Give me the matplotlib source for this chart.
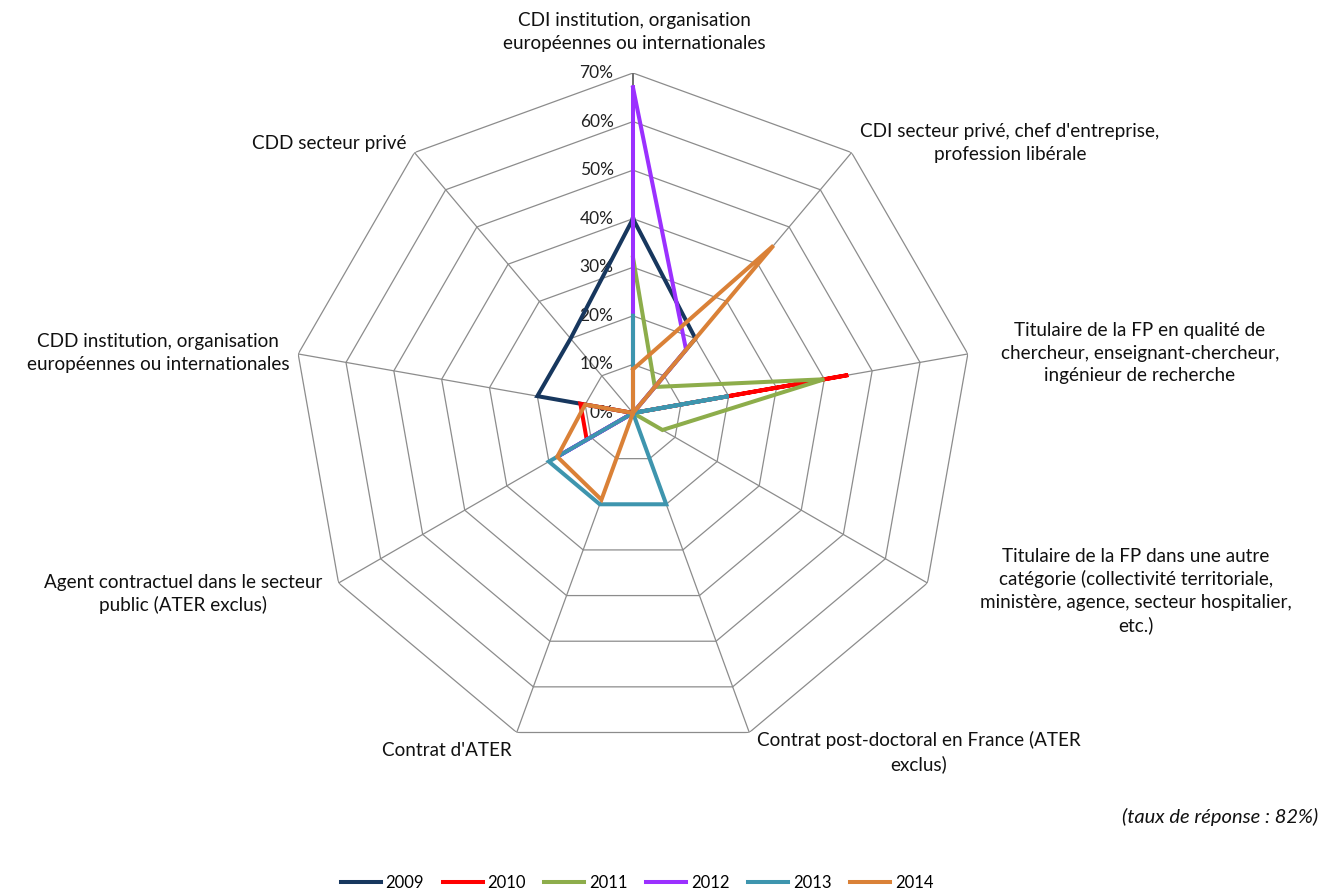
import numpy as np
import matplotlib
matplotlib.use("Agg")
import matplotlib.pyplot as plt

plt.rcParams["font.family"] = ["Lato", "DejaVu Sans"]

# categories, clockwise from the top
categories = [
    "CDI institution, organisation\neuropéennes ou internationales",
    "CDI secteur privé, chef d'entreprise,\nprofession libérale",
    "Titulaire de la FP en qualité de\nchercheur, enseignant-chercheur,\ningénieur de recherche",
    "Titulaire de la FP dans une autre\ncatégorie (collectivité territoriale,\nministère, agence, secteur hospitalier,\netc.)",
    "Contrat post-doctoral en France (ATER\nexclus)",
    "Contrat d'ATER",
    "Agent contractuel dans le secteur\npublic (ATER exclus)",
    "CDD institution, organisation\neuropéennes ou internationales",
    "CDD secteur privé",
]

years = ["2009", "2010", "2011", "2012", "2013", "2014"]
v2009 = [40, 20, 0, 0, 0, 0, 0, 20, 20]
v2010 = [0, 0, 45, 0, 0, 0, 11, 11, 0]
v2011 = [32, 7, 40, 7, 0, 0, 0, 0, 0]
v2012 = [67, 17, 0, 0, 0, 0, 18, 0, 0]
v2013 = [20, 0, 20, 0, 20, 20, 20, 0, 0]
v2014 = [9, 45, 0, 0, 0, 19, 18, 10, 0]
series = [v2009, v2010, v2011, v2012, v2013, v2014]
colors = ["#17375E", "#FF0000", "#8DAD4B", "#9B30FF", "#3E95AE", "#DA8137"]

rings = [10, 20, 30, 40, 50, 60, 70]

W, H = 1335, 891
fig = plt.figure(figsize=(W / 100, H / 100), dpi=100)
cx, cy, R = 633, 413, 340
ax = fig.add_axes([(cx - R) / W, 1 - (cy + R) / H, 2 * R / W, 2 * R / H], projection="polar")
ax.set_theta_offset(np.pi / 2)
ax.set_theta_direction(-1)
ax.set_ylim(0, 70)
ax.grid(False)
ax.set_xticks([])
ax.set_yticks([])
ax.spines["polar"].set_visible(False)

n = len(categories)
theta = np.arange(n) * 2 * np.pi / n
theta_c = np.append(theta, theta[0])

# polygon grid
for r in rings:
    ax.plot(theta_c, [r] * (n + 1), color="#8C8C8C", lw=0.9, zorder=1)
for i, t in enumerate(theta):
    ax.plot([t, t], [0, 70], color="#6E6E6E" if i == 0 else "#8C8C8C",
            lw=1.4 if i == 0 else 0.9, zorder=1)

# value labels on the top axis
for r in [0] + rings:
    ax.annotate(f"{r}%", (0, r), xytext=(-14, 0), textcoords="offset points",
                ha="right", va="center", fontsize=12.5, color="#222222")

for vals, col, yr in zip(series, colors, years):
    ax.plot(theta_c, vals + [vals[0]], color=col, lw=2.9, label=yr, zorder=3,
            solid_joinstyle="miter")

# category labels (pixel positions of the text centres)
label_pos = [
    (634, 32), (1010, 143), (1140, 353), (1136, 591), (919, 752),
    (447, 750), (183, 594), (158, 353), (329, 143),
]
for txt, (px, py) in zip(categories, label_pos):
    fig.text(px / W, 1 - py / H, txt, ha="center", va="center",
             fontsize=13.6, linespacing=1.38, color="#111111")

fig.text(1318 / W, 1 - 817 / H, "(taux de réponse : 82%)", ha="right", va="center",
         fontsize=14.5, style="italic", color="#111111")

fig.legend(loc="center", bbox_to_anchor=(637 / W, 1 - 883 / H), ncol=6,
           frameon=False, fontsize=12, handlelength=2.4, columnspacing=1.1,
           handletextpad=0.3)

fig.savefig("out.png", dpi=100)
